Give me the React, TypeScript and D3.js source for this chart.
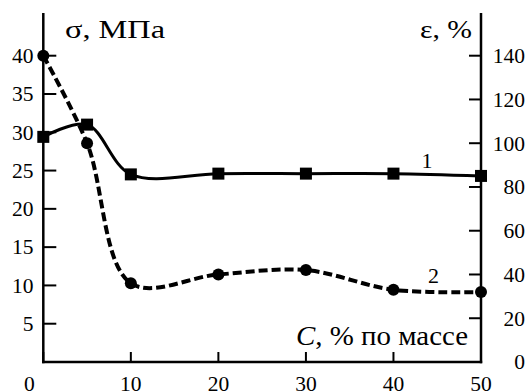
import * as d3 from "d3";

const concentration = [0, 5, 10, 20, 30, 40, 50];
const strength = [29.4, 31.0, 24.5, 24.6, 24.6, 24.6, 24.3];
const elongation = [140, 100, 36, 40, 42, 33, 32];
const xTicks = [0, 10, 20, 30, 40, 50];
const leftTicks = [5, 10, 15, 20, 25, 30, 35, 40];
const rightTicks = [0, 20, 40, 60, 80, 100, 120, 140];

const W = 527;
const H = 392;
const left = 43.3;
const right = 481;
const bottom = 362;
const top = 55.7;

const serif = {
  fontFamily: '"Times New Roman", "Liberation Serif", Tinos, FreeSerif, serif',
};

export default function App() {
  const x = d3.scaleLinear().domain([0, 50]).range([left, right]);
  const yL = d3.scaleLinear().domain([0, 40]).range([bottom, top]);
  const yR = d3.scaleLinear().domain([0, 140]).range([bottom, top]);

  const curve = d3.curveCatmullRom.alpha(0.5);
  const line1 = d3
    .line<number>()
    .x((_, i) => x(concentration[i]))
    .y((d) => yL(d))
    .curve(curve);
  const line2 = d3
    .line<number>()
    .x((_, i) => x(concentration[i]))
    .y((d) => yR(d))
    .curve(curve);

  return (
    <svg
      width={W}
      height={H}
      style={{ position: "absolute", left: 0, top: 0, background: "#fff" }}
    >
      {/* axes */}
      <g stroke="#000" strokeWidth={2.5} fill="none">
        <line x1={left} x2={left} y1={13} y2={bottom + 1.2} />
        <line x1={right} x2={right} y1={13} y2={bottom + 1.2} />
        <line x1={left - 1.2} x2={right + 1.2} y1={bottom} y2={bottom} />
      </g>
      <g stroke="#000" strokeWidth={2}>
        {leftTicks.map((t) => (
          <line key={"l" + t} x1={left} x2={left + 13} y1={yL(t)} y2={yL(t)} />
        ))}
        {rightTicks.map((t) => (
          <line key={"r" + t} x1={right - 12} x2={right} y1={yR(t)} y2={yR(t)} />
        ))}
        {xTicks.map((t) => (
          <line key={"x" + t} x1={x(t)} x2={x(t)} y1={bottom} y2={bottom - 10} />
        ))}
      </g>
      <g fontSize={21.5} fill="#000">
        {leftTicks.map((t) => (
          <text key={"lt" + t} x={33.5} y={yL(t)} dy="0.34em" textAnchor="end" style={serif}>
            {t}
          </text>
        ))}
        {rightTicks.map((t) => (
          <text key={"rt" + t} x={525} y={yR(t)} dy="0.34em" textAnchor="end" style={serif}>
            {t}
          </text>
        ))}
        {xTicks.map((t) => (
          <text
            key={"xt" + t}
            x={t === 0 ? x(t) - 14 : x(t)}
            y={391}
            textAnchor="middle"
            style={serif}
          >
            {t}
          </text>
        ))}
      </g>

      {/* curves */}
      <path d={line1(strength) ?? ""} fill="none" stroke="#000" strokeWidth={3} />
      <path
        d={line2(elongation) ?? ""}
        fill="none"
        stroke="#000"
        strokeWidth={4}
        strokeDasharray="9,4"
      />
      {strength.map((v, i) => (
        <rect
          key={"s" + i}
          x={x(concentration[i]) - 6}
          y={yL(v) - 6}
          width={12}
          height={12}
          fill="#000"
        />
      ))}
      {elongation.map((v, i) => (
        <circle key={"c" + i} cx={x(concentration[i])} cy={yR(v)} r={6} fill="#000" />
      ))}

      {/* labels */}
      <text
        x={65}
        y={38}
        fontSize={25}
        fill="#000"
        style={serif}
        textLength={100}
        lengthAdjust="spacingAndGlyphs"
      >
        σ, МПа
      </text>
      <text
        x={420}
        y={38}
        fontSize={25}
        fill="#000"
        style={serif}
        textLength={52}
        lengthAdjust="spacingAndGlyphs"
      >
        ε, %
      </text>
      <text
        x={296}
        y={345}
        fontSize={27}
        fill="#000"
        style={serif}
        textLength={172}
        lengthAdjust="spacingAndGlyphs"
      >
        <tspan fontStyle="italic">C</tspan>, % по массе
      </text>
      <text x={427} y={168} fontSize={22} textAnchor="middle" fill="#000" style={serif}>
        1
      </text>
      <text x={433.5} y={283} fontSize={22} textAnchor="middle" fill="#000" style={serif}>
        2
      </text>
    </svg>
  );
}
